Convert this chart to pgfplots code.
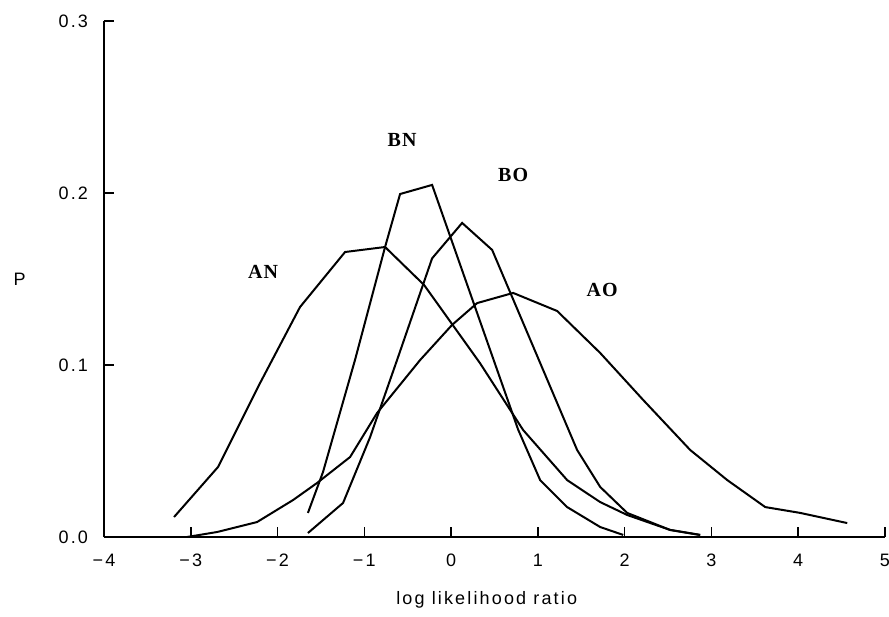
\documentclass[border=0pt]{standalone}
\usepackage{fontspec}
\setmainfont{Liberation Sans}
\newfontfamily\tickfont[LetterSpace=12]{Liberation Sans}
\newfontfamily\labfont[LetterSpace=6]{Liberation Serif}
\usepackage{pgfplots}
\pgfplotsset{compat=1.18}
\pgfplotstableread{
x y
-3.193 0.0116
-2.686 0.0407
-2.213 0.0884
-1.741 0.1337
-1.222 0.1657
-0.761 0.1686
-0.311 0.1465
0.011 0.1238
0.334 0.1010
0.830 0.0622
1.337 0.0331
1.718 0.0203
2.029 0.0128
2.524 0.0041
2.870 0.0012
}\AN
\pgfplotstableread{
x y
-1.650 0.0140
-1.476 0.0378
-1.107 0.1030
-0.761 0.1686
-0.588 0.1994
-0.219 0.2047
0.772 0.0625
1.026 0.0331
1.337 0.0174
1.718 0.0058
1.983 0.0012
}\BN
\pgfplotstableread{
x y
-1.650 0.0023
-1.245 0.0198
-0.934 0.0580
-0.622 0.1030
-0.219 0.1620
0.127 0.1826
0.473 0.1669
1.452 0.0506
1.718 0.0291
2.029 0.0140
2.524 0.0041
2.870 0.0012
}\BO
\pgfplotstableread{
x y
-3.043 0.0000
-2.697 0.0029
-2.236 0.0087
-1.821 0.0215
-1.545 0.0314
-1.164 0.0465
-0.853 0.0721
-0.357 0.1029
0.011 0.1233
0.300 0.1360
0.715 0.1419
1.222 0.1314
1.718 0.1070
2.213 0.0797
2.755 0.0506
3.182 0.0331
3.620 0.0174
4.023 0.0140
4.565 0.0081
}\AO
\begin{document}
\begin{tikzpicture}
\path[use as bounding box] (-52pt,-39.5pt) rectangle (392.5pt,268.5pt);
\begin{axis}[
  at={(0,0)}, anchor=south west,
  width=390.5pt, height=258pt, scale only axis,
  xmin=-4, xmax=5, ymin=0, ymax=0.3,
  axis x line*=bottom, axis y line*=left,
  axis line style={line width=0.9pt},
  tick align=inside, major tick length=5pt,
  tick style={line width=0.8pt, black},
  xtick={-4,-3,-2,-1,0,1,2,3,4,5},
  xticklabels={−4,−3,−2,−1,0,1,2,3,4,5},
  ytick={0,0.1,0.2,0.3},
  yticklabels={0.0,0.1,0.2,0.3},
  tick label style={font=\tickfont\fontsize{9}{10}\selectfont},
  xticklabel style={yshift=-5pt},
  yticklabel style={xshift=-4.5pt},
  xlabel={log likelihood ratio},
  xlabel style={font=\tickfont\fontsize{9}{10}\selectfont, at={(axis description cs:0.49,-0.122)}, anchor=center},
  ylabel={P},
  ylabel style={font=\tickfont\fontsize{9}{10}\selectfont, at={(axis description cs:-0.108,0.5)}, anchor=center, rotate=-90},
  clip=false,
]
\addplot[black, line width=1pt] table {\AN};
\addplot[black, line width=1pt] table {\BN};
\addplot[black, line width=1pt] table {\BO};
\addplot[black, line width=1pt] table {\AO};
\node[font=\labfont\bfseries\fontsize{10}{12}\selectfont] at (axis cs:-2.167,0.154) {AN};
\node[font=\labfont\bfseries\fontsize{10}{12}\selectfont] at (axis cs:-0.565,0.2308) {BN};
\node[font=\labfont\bfseries\fontsize{10}{12}\selectfont] at (axis cs:0.715,0.2105) {BO};
\node[font=\labfont\bfseries\fontsize{10}{12}\selectfont] at (axis cs:1.741,0.1436) {AO};
\end{axis}
\end{tikzpicture}
\end{document}
